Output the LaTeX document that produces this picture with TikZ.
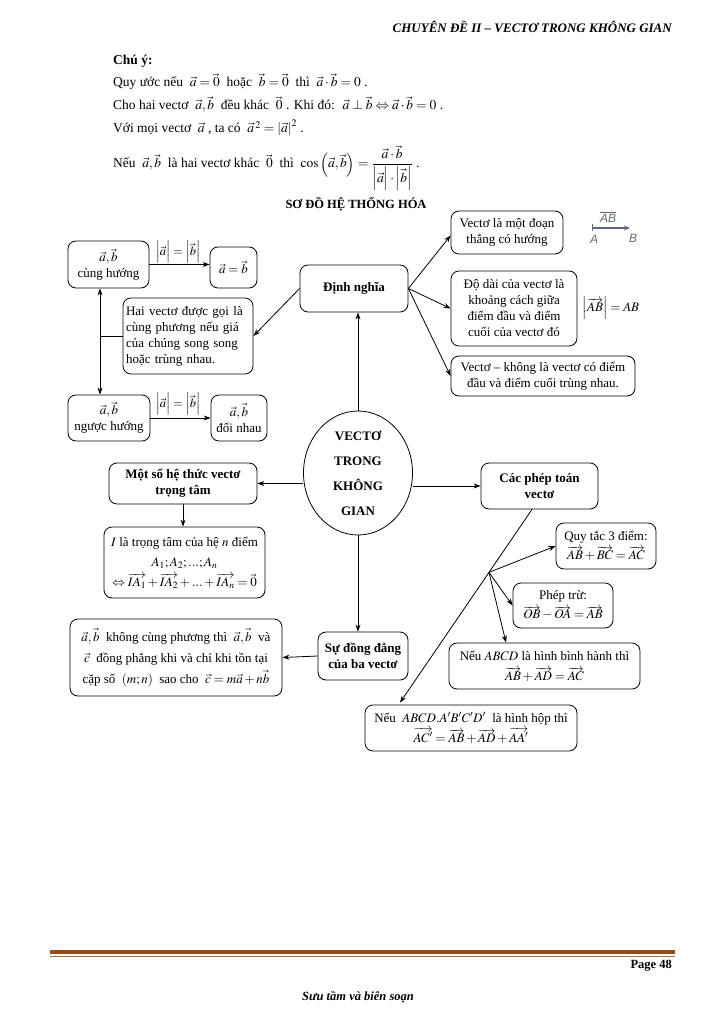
\documentclass[tikz,border=0pt]{standalone}
\usepackage{mathptmx}
\usepackage{fontspec}
\setmainfont{Liberation Serif}
\newfontfamily\sansab{Liberation Sans}
\usetikzlibrary{arrows.meta,shapes.geometric,calc}
\definecolor{abg}{RGB}{95,105,125}
\definecolor{brn}{RGB}{150,75,20}
\newcommand{\absab}{\left|\vec a\vphantom{\vec b}\right|=\left|\vec b\right|}
\begin{document}
\begin{tikzpicture}[x=1pt,y=-1pt,
  box/.style={draw, rounded corners=8pt, line width=0.8pt, align=center, inner sep=2pt, font=\fontsize{13}{16}\selectfont},
  bbox/.style={box, font=\bfseries\fontsize{13}{16}\selectfont},
  note/.style={anchor=base west, inner sep=0pt, font=\fontsize{13.5}{15}\selectfont},
  arr/.style={-{Stealth[length=7pt,width=5pt]}, line width=0.8pt},
  ln/.style={line width=0.8pt}]
\useasboundingbox (0,0) rectangle (725,1024);

% header
\node[anchor=base east, inner sep=0pt, font=\bfseries\itshape\fontsize{13}{15}\selectfont] (hdr) at (672,33) {CHUYÊN ĐỀ II – VECTƠ TRONG KHÔNG GIAN};

% notes
\node[note, font=\bfseries\fontsize{13.5}{15}\selectfont] (chuy) at (113,65) {Chú ý:};
\node[note] (n1) at (113,87) {Quy ước nếu \ $\vec a=\vec 0$ \ hoặc \ $\vec b=\vec 0$ \ thì \ $\vec a\cdot\vec b=0$ .};
\node[note] (n2) at (113,110) {Cho hai vectơ \ $\vec a,\vec b$ \ đều khác \ $\vec 0$ . Khi đó: \ $\vec a\perp\vec b\Leftrightarrow\vec a\cdot\vec b=0$ .};
\node[note] (n3) at (113,133) {Với mọi vectơ \ $\vec a$ , ta có \ $\vec a^{\,2}=\left|\vec a\right|^2$ .};
\node[note] (n4) at (113,168) {Nếu \ $\vec a,\vec b$ \ là hai vectơ khác \ $\vec 0$ \ thì \ $\displaystyle\cos\left(\vec a,\vec b\right)=\frac{\vec a\cdot\vec b}{\left|\vec a\vphantom{\vec b}\right|\cdot\left|\vec b\right|}$ .};

% title
\node[font=\bfseries\fontsize{12.5}{14}\selectfont] (title) at (356,204) {SƠ ĐỒ HỆ THỐNG HÓA};

% left column
\node[box, minimum width=81pt, minimum height=47pt] (cuh) at (108.5,264.5) {$\vec a,\vec b$\\cùng hướng};
\node[box, minimum width=47pt, minimum height=41pt] (aeqb) at (233.5,267.5) {$\vec a=\vec b$};
\node[box, align=left, text width=124pt, minimum height=76pt, inner sep=3pt] (cp) at (188,336) {Hai vectơ được gọi là\\cùng phương nếu giá\\của chúng song song\\hoặc trùng nhau.};
\node[box, minimum width=82pt, minimum height=46pt] (ngh) at (109,418) {$\vec a,\vec b$\\ngược hướng};
\node[box, minimum width=56pt, minimum height=46pt] (dnh) at (239,418) {$\vec a,\vec b$\\đối nhau};
\node[font=\fontsize{12.5}{14}\selectfont] (lab1) at (178,252) {$\absab$};
\node[font=\fontsize{12.5}{14}\selectfont] (lab2) at (178,404) {$\absab$};

% definition
\node[bbox, minimum width=108pt, minimum height=47pt] (dn) at (354,288.5) {Định nghĩa};
\node[box, minimum width=112pt, minimum height=43pt] (d1) at (507,232.5) {Vectơ là một đoạn\\thẳng có hướng};
\node[box, minimum width=126pt, minimum height=75pt] (d2) at (514,308.5) {Độ dài của vectơ là\\khoảng cách giữa\\điểm đầu và điểm\\cuối của vectơ đó};
\node[box, minimum width=184pt, minimum height=40pt, inner sep=1pt] (d3) at (543,376) {Vectơ – không là vectơ có điểm\\đầu và điểm cuối trùng nhau.};
\node[font=\fontsize{13}{15}\selectfont] (absabn) at (611,308) {$\left|\overrightarrow{AB}\right|=AB$};

% AB picture
\coordinate (abA) at (592,228);
\coordinate (abB) at (630,228);
\draw[abg, line width=1.2pt, {Bar[width=7pt]}-{Stealth[length=6pt,width=5pt]}] (abA) -- (abB);
\node[abg, font=\sansab\itshape\fontsize{12}{12}\selectfont] (labA) at (594,239) {A};
\node[abg, font=\sansab\itshape\fontsize{12}{12}\selectfont] (labB) at (633,238) {B};
\node[abg, font=\sansab\itshape\fontsize{12}{12}\selectfont] (labAB) at (608,217) {$\overline{\hbox{\sansab\itshape AB}}$};

% centre
\node[draw, ellipse, line width=0.8pt, minimum width=109pt, minimum height=124pt, inner sep=0pt, align=center, font=\bfseries\fontsize{13}{25}\selectfont] (ell) at (358,473) {VECTƠ\\TRONG\\KHÔNG\\GIAN};

\node[bbox, minimum width=148pt, minimum height=41pt] (ht) at (183,483.5) {Một số hệ thức vectơ\\trọng tâm};
\node[bbox, minimum width=117pt, minimum height=46pt] (pt) at (539.5,486) {Các phép toán\\vectơ};
\node[box, minimum width=161pt, minimum height=71pt, font=\fontsize{13}{20}\selectfont] (tt) at (184.5,562.5) {$I$ là trọng tâm của hệ $n$ điểm\\$A_1;A_2;...;A_n$\\$\Leftrightarrow\overrightarrow{IA_1}+\overrightarrow{IA_2}+...+\overrightarrow{IA_n}=\vec 0$};
\node[box, minimum width=212pt, minimum height=77pt, font=\fontsize{13}{21}\selectfont] (dp) at (176,657.5) {$\vec a,\vec b$ \ không cùng phương thì \ $\vec a,\vec b$ \ và\\$\vec c$ \ đồng phẳng khi và chỉ khi tồn tại\\cặp số \ $\left(m;n\right)$ \ sao cho \ $\vec c=m\vec a+n\vec b$};
\node[bbox, minimum width=90pt, minimum height=48pt] (sdd) at (363,656) {Sự đồng đẳng\\của ba vectơ};

% operations
\node[box, minimum width=100pt, minimum height=46pt, font=\fontsize{13}{19}\selectfont] (qt) at (606,546) {Quy tắc 3 điểm:\\$\overrightarrow{AB}+\overrightarrow{BC}=\overrightarrow{AC}$};
\node[box, minimum width=100pt, minimum height=45pt, font=\fontsize{13}{19}\selectfont] (tr) at (563,605.5) {Phép trừ:\\$\overrightarrow{OB}-\overrightarrow{OA}=\overrightarrow{AB}$};
\node[box, minimum width=191pt, minimum height=46pt, font=\fontsize{13}{20}\selectfont] (hbh) at (544.5,666) {Nếu $ABCD$ là hình bình hành thì\\$\overrightarrow{AB}+\overrightarrow{AD}=\overrightarrow{AC}$};
\node[box, minimum width=212pt, minimum height=46pt, font=\fontsize{13}{20}\selectfont] (hh) at (471,728) {Nếu \ $ABCD.A'B'C'D'$ \ là hình hộp thì\\$\overrightarrow{AC'}=\overrightarrow{AB}+\overrightarrow{AD}+\overrightarrow{AA'}$};

% connectors
\draw[arr] (cuh.east) -- (cuh.east -| aeqb.west);
\draw[arr] (ngh.east) -- (ngh.east -| dnh.west);
\draw[ln, {Stealth[length=7pt,width=5pt]}-{Stealth[length=7pt,width=5pt]}] ([xshift=-8.5pt]cuh.south) -- coordinate (dmid) ([xshift=-9pt]ngh.north);
\draw[ln] (cp.west) -- (cp.west -| dmid);
\draw[arr] (dn.west) -- (cp.east);
\draw[arr] (dn.east) -- ([yshift=-3pt]d1.west);
\draw[arr] (dn.east) -- (d2.west);
\draw[arr] (dn.east) -- (d3.west);
\draw[arr] (ell.north) -- (ell.north |- dn.south);
\draw[arr] (ell.west |- ht.east) -- (ht.east);
\draw[arr] (ell.east |- pt.west) -- (pt.west);
\draw[arr] (ht.south) -- (ht.south |- tt.north);
\draw[arr] (ell.south) -- (ell.south |- sdd.north);
\draw[arr] (sdd.west) -- (dp.east);
\coordinate (ps) at ([xshift=-7.5pt]pt.south);
\coordinate (pe) at ([xshift=-71pt,yshift=2pt]hh.north);
\coordinate (br) at ($(ps)!0.326!(pe)$);
\draw[arr] (ps) -- (pe);
\draw[arr] (br) -- (qt.west);
\draw[arr] (br) -- (tr.west);
\draw[arr] (br) -- ([xshift=-38.5pt]hbh.north);

% footer
\coordinate (fl1) at (50,952);
\coordinate (fr1) at (675,952);
\coordinate (fl2) at (50,956.5);
\coordinate (fr2) at (675,956.5);
\draw[brn, line width=3.5pt] (fl1) -- (fr1);
\draw[brn!80, line width=0.8pt] (fl2) -- (fr2);
\node[anchor=base east, inner sep=0pt, font=\bfseries\fontsize{12.5}{14}\selectfont] (pg) at (672,968) {Page 48};
\node[font=\bfseries\itshape\fontsize{12.5}{14}\selectfont] (ft) at (358,997) {Sưu tầm và biên soạn};
\end{tikzpicture}
\end{document}
